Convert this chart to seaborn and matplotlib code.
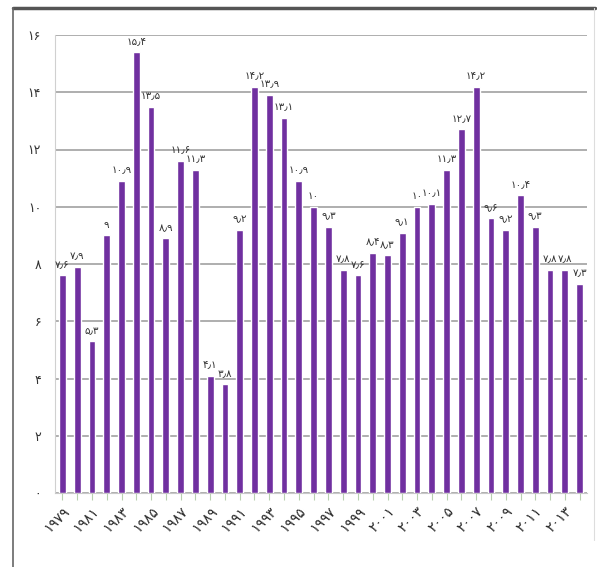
import matplotlib
matplotlib.use("Agg")
import matplotlib.pyplot as plt
import seaborn as sns
import pandas as pd
from matplotlib.lines import Line2D

# Annual rate by year, 1979-2014
years = list(range(1979, 2015))
values = [7.6, 7.9, 5.3, 9.0, 10.9, 15.4, 13.5, 8.9, 11.6, 11.3, 4.1, 3.8,
          9.2, 14.2, 13.9, 13.1, 10.9, 10.0, 9.3, 7.8, 7.6, 8.4, 8.3, 9.1,
          10.0, 10.1, 11.3, 12.7, 14.2, 9.6, 9.2, 10.4, 9.3, 7.8, 7.8, 7.3]
y_ticks = [0, 2, 4, 6, 8, 10, 12, 14, 16]

FA = str.maketrans("0123456789.", "۰۱۲۳۴۵۶۷۸۹٫")


def fa(v):
    if isinstance(v, float) and not v.is_integer():
        s = f"{v:.1f}"
    else:
        s = str(int(v))
    return s.translate(FA)


df = pd.DataFrame({"year": [str(y) for y in years], "value": values})

sns.set_theme(style="white")
plt.rcParams["font.family"] = ["DejaVu Sans"]

fig = plt.figure(figsize=(5.97, 5.67), dpi=100)
ax = fig.add_axes([55 / 597, 1 - 493 / 567, (587 - 55) / 597, (493 - 35) / 567])

sns.barplot(data=df, x="year", y="value", color="#7030A0", saturation=1,
            width=0.46, ax=ax, zorder=3)

ax.set_ylim(0, 16)
ax.set_xlim(-0.5, len(years) - 0.5)
ax.set_yticks(y_ticks)
ax.set_yticklabels([fa(t) for t in y_ticks], fontsize=9, color="#333333")
ax.yaxis.grid(True, color="#a8a8a8", linewidth=1.3, zorder=0)
ax.tick_params(axis="y", length=0, pad=10)

ax.set_xticks(range(len(years)))
ax.set_xticklabels([fa(y) if (y - years[0]) % 2 == 0 else "" for y in years],
                   rotation=45, ha="right", rotation_mode="anchor",
                   fontsize=10, color="#2a2a2a")
ax.tick_params(axis="x", length=5, width=0.8, color="#b8d0b0", pad=3,
               bottom=True, direction="out")

for side in ["top", "right"]:
    ax.spines[side].set_visible(False)
ax.spines["left"].set_color("#d0d0d0")
ax.spines["left"].set_linewidth(0.8)
ax.spines["bottom"].set_color("#c8c8c8")
ax.spines["bottom"].set_linewidth(0.8)
ax.set_xlabel("")
ax.set_ylabel("")

ax.bar_label(ax.containers[0], labels=[fa(v) for v in values],
             padding=4, fontsize=7.5, color="#333333")

# outer frame
fig.add_artist(Line2D([13 / 597, 595 / 597], [1 - 8 / 567, 1 - 8 / 567],
                      transform=fig.transFigure, color="#555555", linewidth=2.5))
fig.add_artist(Line2D([13 / 597, 13 / 597], [1 - 8 / 567, 0],
                      transform=fig.transFigure, color="#666666", linewidth=1.2))
fig.add_artist(Line2D([594 / 597, 594 / 597], [1 - 8 / 567, 1 - 540 / 567],
                      transform=fig.transFigure, color="#dddddd", linewidth=0.8))

fig.savefig("out.png", dpi=100, facecolor="white")
